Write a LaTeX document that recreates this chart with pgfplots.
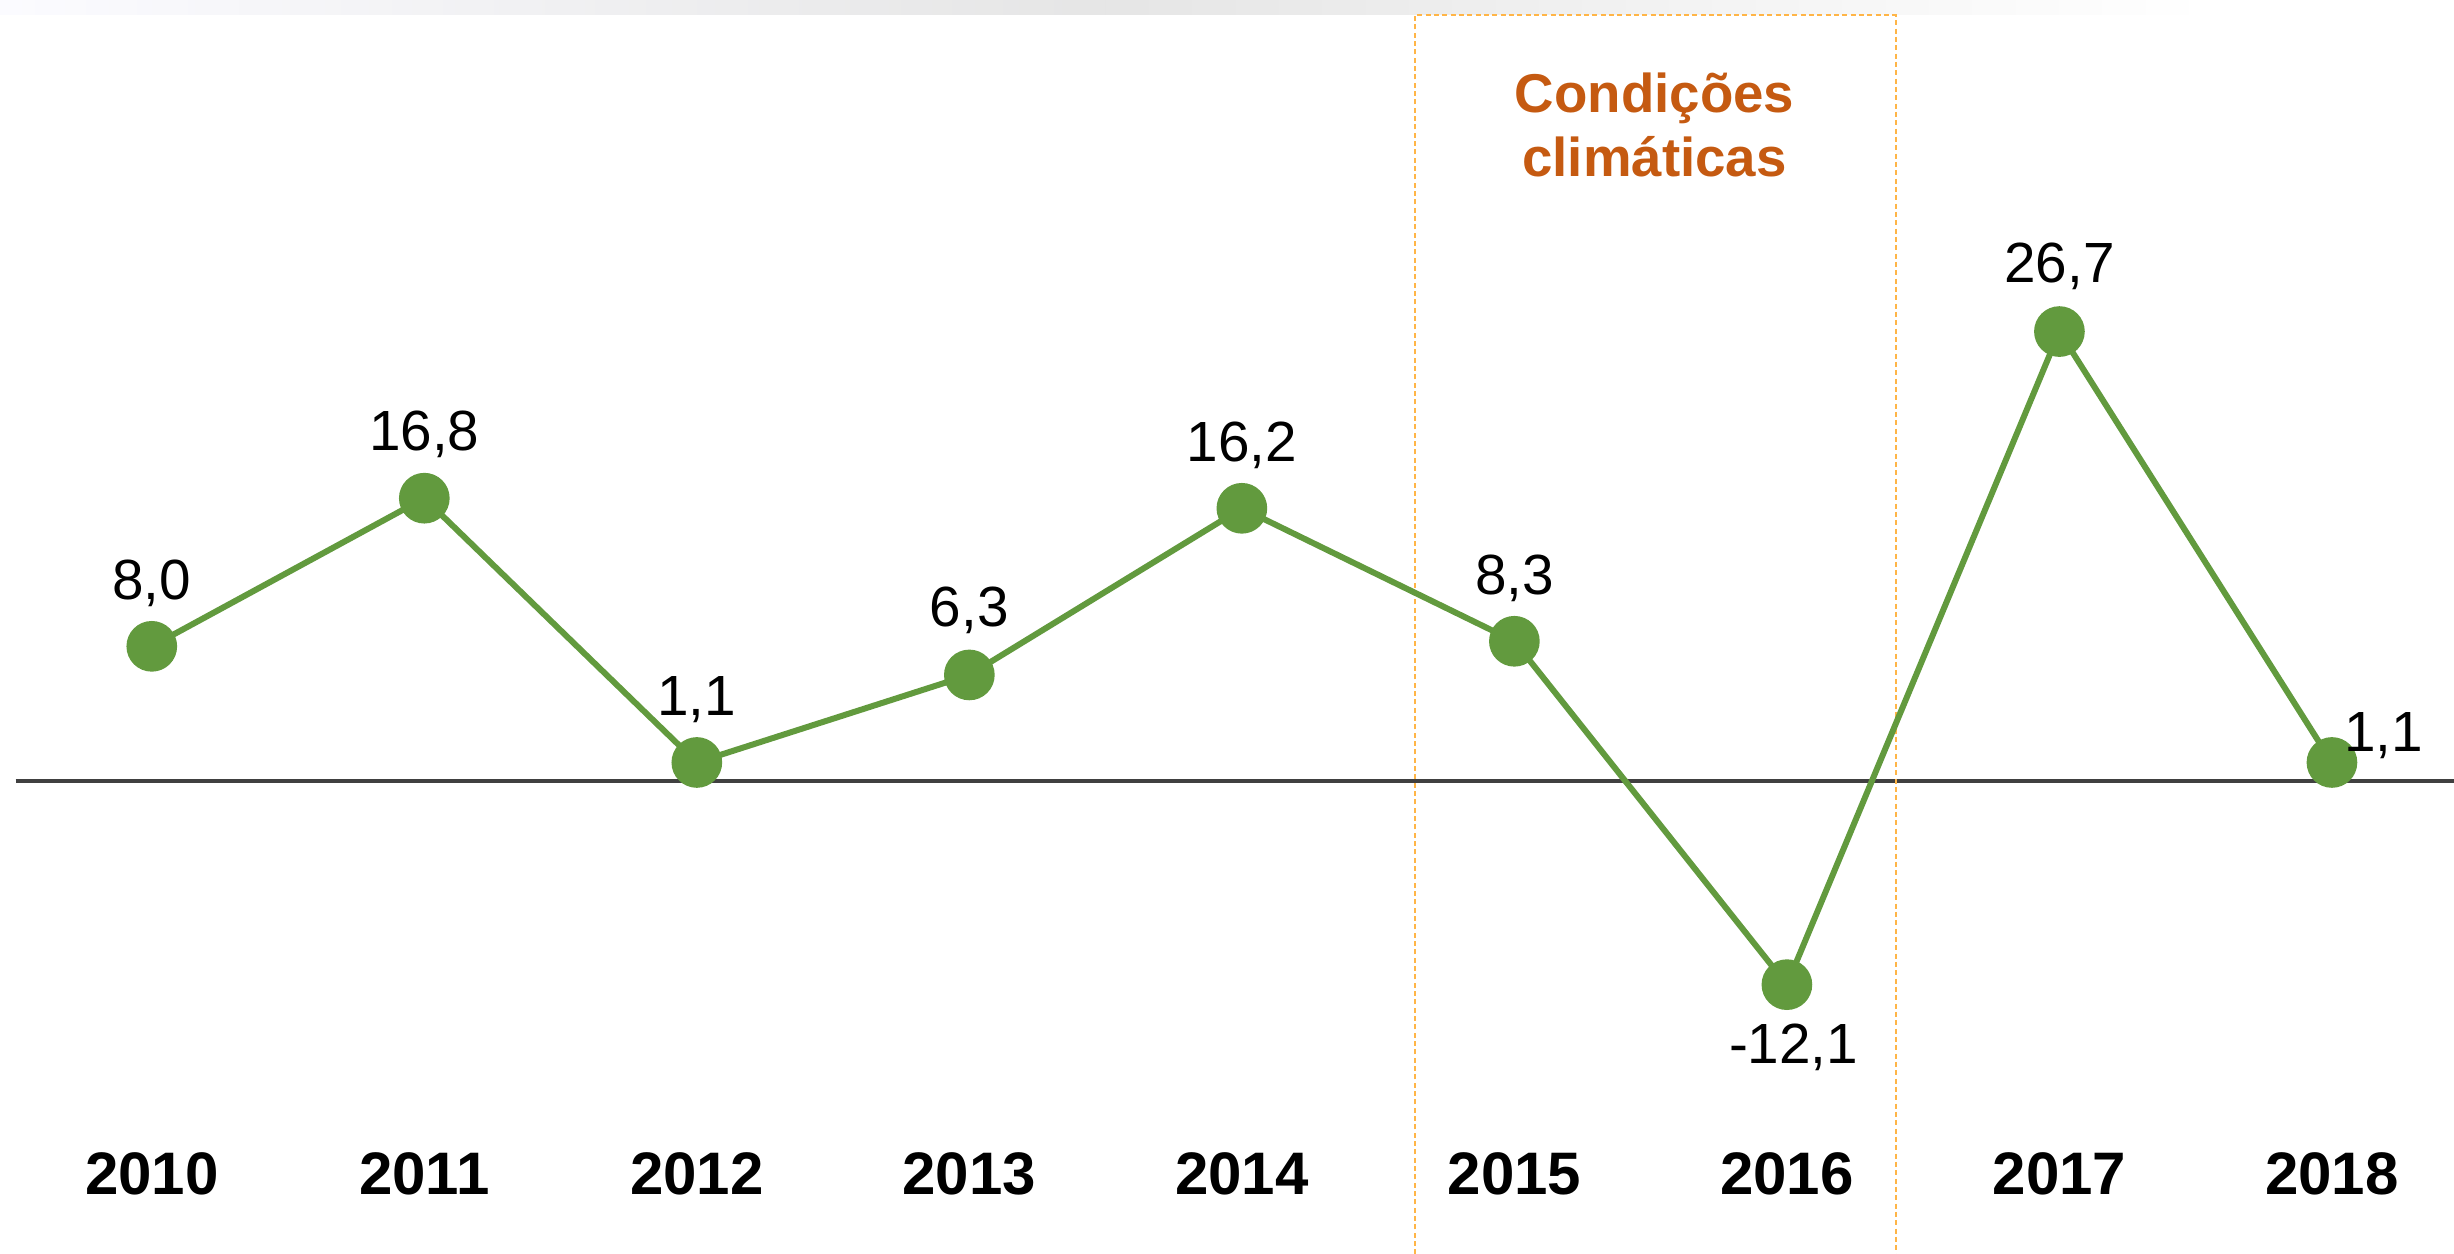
\documentclass[border=0pt]{standalone}
\usepackage{pgfplots}
\usepackage{pgfplotstable}
\pgfplotsset{compat=1.18}
\usepackage{fontspec}
\setmainfont{Liberation Sans}
\definecolor{lgreen}{HTML}{629A3E}
\definecolor{boxorange}{HTML}{FFB547}
\definecolor{txtorange}{HTML}{C55A11}
\definecolor{zeroline}{HTML}{404040}
\pgfplotstableread{
x y lab dx dy
0 8.0 {8,0} 0 19
1 16.8 {16,8} 0 19.3
2 1.1 {1,1} 0 18.8
3 6.3 {6,3} 0 19.3
4 16.2 {16,2} 0 19
5 8.3 {8,3} 0 19
6 -12.1 {-12,1} 2 -18.8
7 26.7 {26,7} 0 19.7
8 1.1 {1,1} 15.5 8
}\data
\begin{document}
\begin{tikzpicture}
\path[use as bounding box] (0,0) rectangle (736.2pt,376.2pt);
\shade[left color=white!50!blue!3, right color=white, middle color=black!10] (0,371.7pt) rectangle (663pt,376.2pt);
\begin{axis}[
  at={(0,0)}, anchor=south west,
  scale only axis, width=736.2pt, height=376.2pt,
  xmin=-0.557, xmax=8.448, ymin=-28.1, ymax=46.4,
  axis line style={draw=none}, tick style={draw=none},
  ytick=\empty,
  xtick={0,...,8},
  xticklabels={2010,2011,2012,2013,2014,2015,2016,2017,2018},
  xticklabel style={font=\fontsize{18}{20}\selectfont\bfseries, anchor=center, yshift=24pt},
]
\draw[zeroline, line width=1.2pt] (axis cs:-0.5,0) -- (axis cs:9,0);
\draw[boxorange, line width=0.6pt, dash pattern=on 1.5pt off 1pt] (axis cs:4.635,-40) rectangle (axis cs:6.399,45.5);
\node[align=center, font=\fontsize{16.4}{19.3}\selectfont\bfseries, text=txtorange] at (axis cs:5.514,38.98) {Condições\\climáticas};
\addplot[
  lgreen, line width=1.8pt,
  mark=*, mark size=6.7pt, mark options={draw=none, fill=lgreen},
  point meta=explicit symbolic,
  visualization depends on={\thisrow{dx} \as \dx},
  visualization depends on={\thisrow{dy} \as \dy},
  nodes near coords,
  nodes near coords style={anchor=center, text=black, font=\fontsize{17}{18}\selectfont, xshift=\dx pt, yshift=\dy pt},
] table[x=x, y=y, meta=lab] {\data};
\end{axis}
\end{tikzpicture}
\end{document}
